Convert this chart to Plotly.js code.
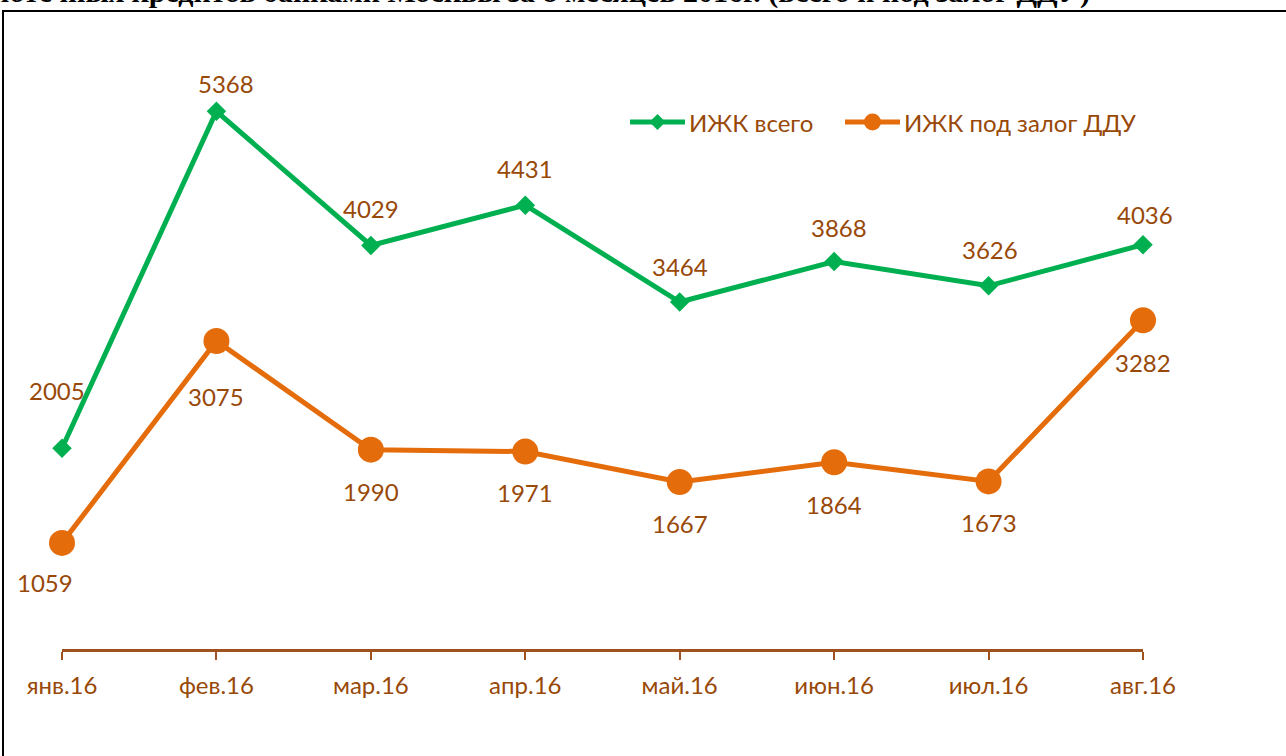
<!DOCTYPE html>
<html>
<head>
<meta charset="utf-8">
<script src="https://cdn.plot.ly/plotly-3.0.1.min.js"></script>
<style>html,body{margin:0;padding:0;background:#fff;}#chart{width:1286px;height:756px;}</style>
</head>
<body>
<div id="chart"></div>
<script>
const months = ['янв.16','фев.16','мар.16','апр.16','май.16','июн.16','июл.16','авг.16'];
const izhkTotal = [2005, 5368, 4029, 4431, 3464, 3868, 3626, 4036];
const izhkDDU = [1059, 3075, 1990, 1971, 1667, 1864, 1673, 3282];
const seriesNames = ['ИЖК всего', 'ИЖК под залог ДДУ'];
const titleText = 'Выдача ипотечных кредитов банками Москвы за 8 месяцев 2016г. (всего и под залог ДДУ)';

const green = '#00B050', orange = '#E46C0A', brown = '#984807';
const font = 'Lato, "Open Sans", sans-serif';

// label offsets (pixels) – style only
const totalShiftX = [-5, 10, 0, 0, 0, 5, 1, 2];
const totalShiftY = [58, 28, 37, 37, 36, 34, 36, 30];
const dduShiftX = [-17, 0, 0, 0, 0, 0, 0, 0];
const dduShiftY = [-40, -56, -42, -41, -41, -42, -41, -42];

// margins
const M = {l: 62, r: 143, t: 48, b: 107};
const W = 1286, H = 756;
const pw = W - M.l - M.r, ph = H - M.t - M.b;
const px = x => (x - M.l) / pw;
const py = y => (H - M.b - y) / ph;

const traces = [
  {x: months, y: izhkTotal, name: seriesNames[0], type: 'scatter', mode: 'lines+markers',
   line: {color: green, width: 5}, marker: {symbol: 'diamond', size: 15, color: green},
   cliponaxis: false, hoverinfo: 'skip', showlegend: false},
  {x: months, y: izhkDDU, name: seriesNames[1], type: 'scatter', mode: 'lines+markers',
   line: {color: orange, width: 5}, marker: {symbol: 'circle', size: 26, color: orange},
   cliponaxis: false, hoverinfo: 'skip', showlegend: false}
];

const annotations = [];
months.forEach((m, i) => {
  annotations.push({x: m, y: izhkTotal[i], text: String(izhkTotal[i]), showarrow: false,
    xanchor: 'center', yanchor: 'middle', xshift: totalShiftX[i], yshift: totalShiftY[i],
    font: {family: font, size: 24, color: brown}});
  annotations.push({x: m, y: izhkDDU[i], text: String(izhkDDU[i]), showarrow: false,
    xanchor: 'center', yanchor: 'middle', xshift: dduShiftX[i], yshift: dduShiftY[i],
    font: {family: font, size: 24, color: brown}});
});
annotations.push({xref: 'paper', yref: 'paper', x: px(1092), y: py(11), xanchor: 'right', yanchor: 'bottom',
  text: titleText, showarrow: false,
  font: {family: '"Liberation Serif", "DejaVu Serif", serif', size: 30, color: '#000', weight: 'bold'}});

// custom legend (line + marker + text)
const legY = 122;
const legendItems = [
  {x0: 630, x1: 685, color: green, symbol: 'diamond', name: seriesNames[0]},
  {x0: 845, x1: 900, color: orange, symbol: 'circle', name: seriesNames[1]}
];
const shapes = [{type: 'rect', xref: 'paper', yref: 'paper', x0: px(3), x1: px(1400), y0: py(900), y1: py(11),
    line: {color: '#000', width: 2}, fillcolor: 'rgba(0,0,0,0)', layer: 'below'}];
legendItems.forEach(it => {
  shapes.push({type: 'line', xref: 'paper', yref: 'paper', x0: px(it.x0), x1: px(it.x1), y0: py(legY), y1: py(legY),
    line: {color: it.color, width: 5}});
  const cx = (it.x0 + it.x1) / 2;
  if (it.symbol === 'diamond') {
    const r = 8;
    shapes.push({type: 'path', xref: 'paper', yref: 'paper',
      path: `M ${px(cx)} ${py(legY - r)} L ${px(cx + r)} ${py(legY)} L ${px(cx)} ${py(legY + r)} L ${px(cx - r)} ${py(legY)} Z`,
      fillcolor: it.color, line: {width: 0}});
  } else {
    const r = 8.5;
    shapes.push({type: 'circle', xref: 'paper', yref: 'paper', x0: px(cx - r), x1: px(cx + r), y0: py(legY + r), y1: py(legY - r),
      fillcolor: it.color, line: {width: 0}});
  }
  annotations.push({xref: 'paper', yref: 'paper', x: px(it.x1 + 2), y: py(legY), xanchor: 'left', yanchor: 'middle',
    text: it.name, showarrow: false, font: {family: font, size: 24, color: brown}});
});

const layout = {
  width: W, height: H,
  margin: M,
  paper_bgcolor: '#fff', plot_bgcolor: '#fff',
  showlegend: false,
  xaxis: {type: 'category', range: [0, 7], showgrid: false, zeroline: false,
    showline: true, linecolor: '#A0521E', linewidth: 3,
    ticks: 'outside', ticklen: 8, tickwidth: 2, tickcolor: '#A0521E',
    ticklabelstandoff: 5,
    tickfont: {family: font, size: 24, color: brown}, fixedrange: true},
  yaxis: {range: [0, 6000], visible: false, showgrid: false, zeroline: false, fixedrange: true},
  annotations: annotations,
  shapes: shapes
};

Plotly.newPlot('chart', traces, layout, {staticPlot: true, displayModeBar: false});
</script>
</body>
</html>
